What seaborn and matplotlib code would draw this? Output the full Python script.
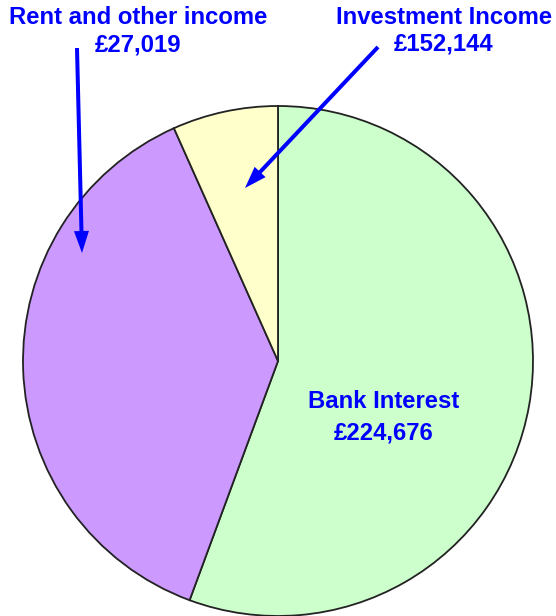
import matplotlib
matplotlib.use("Agg")
import matplotlib.pyplot as plt
import seaborn as sns

categories = ["Bank Interest", "Investment Income", "Rent and other income"]
values = [224676, 152144, 27019]
value_labels = ["£224,676", "£152,144", "£27,019"]
colors = ["#CCFFCC", "#CC99FF", "#FFFFCC"]

sns.set_theme(style="white")
plt.rcParams['font.family'] = ['Liberation Sans', 'DejaVu Sans']

W, H = 556, 616
fig = plt.figure(figsize=(W / 100, H / 100), dpi=100)
ax = fig.add_axes([0, 0, 1, 1])

def py(y):
    return H - y

ax.pie(values, colors=colors, startangle=90, counterclock=False,
       center=(278, py(361)), radius=255,
       wedgeprops=dict(edgecolor="#222222", linewidth=1.3))
ax.set_xlim(0, W)
ax.set_ylim(0, H)
ax.set_aspect('auto')
ax.axis('off')

blue = "#0000FF"
tkw = dict(color=blue, fontsize=17.2, fontweight="bold", ha="center", va="center")

# Bank Interest label inside
ax.text(384, py(401), categories[0], **tkw)
ax.text(384, py(433), value_labels[0], **tkw)

# Rent and other income (arrow points into purple slice as in original)
ax.text(138, py(17), categories[2], **tkw)
ax.text(138, py(45), value_labels[2], **tkw)
ax.arrow(77, py(48), 82 - 77, py(253) - py(48), width=4, head_width=15,
         head_length=22, length_includes_head=True, color=blue, lw=0)

# Investment Income (arrow points into yellow slice as in original)
ax.text(444, py(17), categories[1], **tkw)
ax.text(444, py(44), value_labels[1], **tkw)
ax.arrow(378, py(47), 245 - 378, py(188) - py(47), width=4, head_width=15,
         head_length=22, length_includes_head=True, color=blue, lw=0)

fig.savefig("out.png", dpi=100)
